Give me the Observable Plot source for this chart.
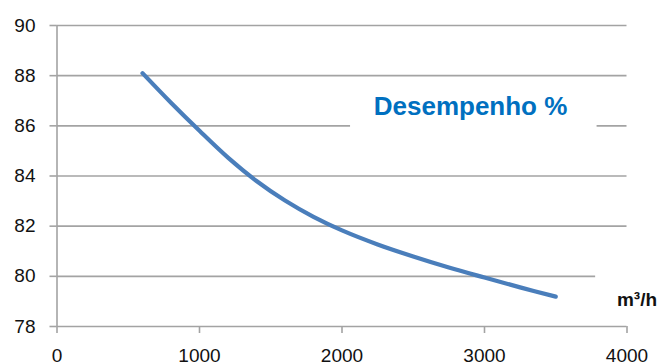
<!DOCTYPE html>
<html>
<head>
<meta charset="utf-8">
<script src="https://cdn.jsdelivr.net/npm/d3@7"></script>
<script src="https://cdn.jsdelivr.net/npm/@observablehq/plot@0.6"></script>
<style>
  html, body { margin: 0; padding: 0; background: white; }
</style>
</head>
<body>
<div id="chart"></div>
<script>
const flow = [600, 800, 1000, 1200, 1400, 1600, 1800, 2000, 2250, 2500, 2750, 3000, 3250, 3500];
const efficiency = [88.1, 86.92, 85.8, 84.73, 83.8, 83.02, 82.37, 81.83, 81.27, 80.79, 80.35, 79.95, 79.56, 79.19];
const yTicks = [78, 80, 82, 84, 86, 88, 90];
const xTicks = [0, 1000, 2000, 3000, 4000];
const seriesLabel = "Desempenho %";
const unitLabel = "m³/h";

const data = flow.map((x, i) => ({x, y: efficiency[i]}));
const grid = "#a3a3a3";

const chart = Plot.plot({
  width: 665,
  height: 363,
  marginLeft: 56.5,
  marginRight: 38.5,
  marginTop: 25,
  marginBottom: 37,
  x: {domain: [0, 4000]},
  y: {domain: [78, 90]},
  style: {fontFamily: "'Liberation Sans', Arial, sans-serif", fontSize: "19px", background: "white", color: "#111"},
  marks: [
    Plot.gridY(yTicks, {stroke: grid, strokeOpacity: 1, strokeWidth: 1.6}),
    Plot.ruleX([0], {y1: 78, y2: 90, stroke: grid, strokeWidth: 1.6}),
    Plot.rect([0], {x1: 2060, x2: 3790, y1: 85.8, y2: 87.5, fill: "white"}),
    Plot.rect([0], {x1: 3780, x2: 4300, y1: 78.4, y2: 80.4, fill: "white"}),
    Plot.text([seriesLabel], {x: 2902, y: 86.75, text: d => d, fontSize: 26, fontWeight: "bold", fill: "#0070C0"}),
    Plot.text([unitLabel], {x: 4070, y: 79.05, text: d => d, fontSize: 19, fontWeight: "bold", fill: "#111"}),
    Plot.line(data, {x: "x", y: "y", curve: "catmull-rom", stroke: "#4A7EBB", strokeWidth: 4.2, strokeLinecap: "round"}),
    Plot.axisY({ticks: yTicks, tickSize: 7, tickPadding: 14.5, stroke: grid, strokeWidth: 1.6, strokeOpacity: 1, fill: "#111", label: null}),
    Plot.axisX({ticks: xTicks, tickSize: 7, tickPadding: 15, stroke: grid, strokeWidth: 1.6, strokeOpacity: 1, fill: "#111", tickFormat: d3.format("d"), label: null})
  ]
});
document.getElementById("chart").appendChild(chart);
</script>
</body>
</html>
